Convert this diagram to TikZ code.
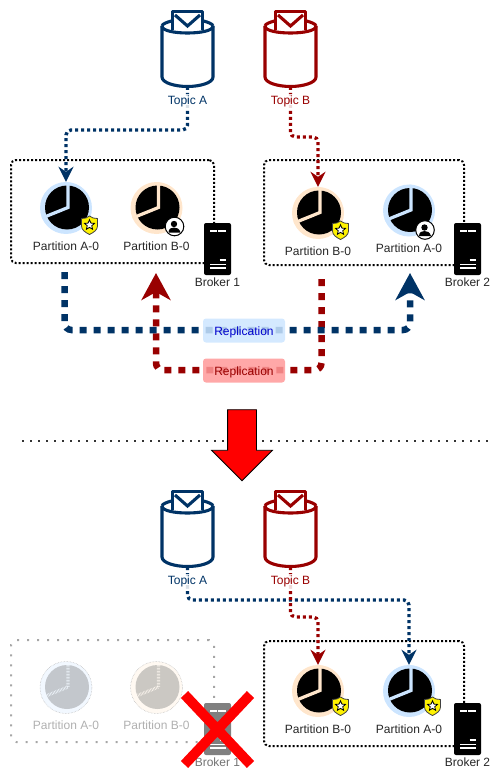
\documentclass[tikz,border=0pt]{standalone}
\usepackage{fontspec}
\setmainfont{Liberation Sans}
\usetikzlibrary{arrows.meta,positioning,shapes.geometric,shapes.arrows,shapes.misc}
\definecolor{TopicBlue}{HTML}{003366}
\definecolor{TopicRed}{HTML}{990000}
\definecolor{RingBlue}{HTML}{CCE5FF}
\definecolor{RingOrange}{HTML}{FFE6CC}
\definecolor{GhostBlue}{HTML}{C3C7CC}
\definecolor{GhostOrange}{HTML}{CBC8C3}
\definecolor{GhostText}{HTML}{B0B0B0}
\tikzset{
  pics/topic/.style={code={
    \draw[#1,line width=3.1pt,line join=round] (-25.5,-24) -- (-25.5,27) .. controls (-25.5,33) and (-12,36.5) .. (0,36.5) .. controls (12,36.5) and (25.5,33) .. (25.5,27) -- (25.5,-24);
    \draw[#1,line width=3.1pt] (-25.5,-24) .. controls (-25.5,-19) and (-12,-17) .. (0,-17) .. controls (12,-17) and (25.5,-19) .. (25.5,-24);
    \draw[#1,line width=3.1pt] (-25.5,-24) .. controls (-25.5,-26) and (-20,-28) .. (-16,-29);
    \draw[#1,line width=3.1pt] (25.5,-24) .. controls (25.5,-26) and (20,-28) .. (16,-29);
    \draw[#1,line width=3.1pt,line join=round] (-15,-20) -- (-15,-38.5) -- (15,-38.5) -- (15,-20);
    \draw[#1,line width=3.1pt] (-12.5,-35) -- (0,-24) -- (12.5,-35);
    \coordinate (-bottom) at (0,37);
  }},
  pics/shield/.style={code={
    \draw[fill=yellow,draw=black!75,line width=.8pt,line join=round] (0,-9) .. controls (-2,-7) and (-5,-6.5) .. (-8,-6.5) -- (-8,1) .. controls (-8,5) and (-4,7.5) .. (0,9.5) .. controls (4,7.5) and (8,5) .. (8,1) -- (8,-6.5) .. controls (5,-6.5) and (2,-7) .. (0,-9) -- cycle;
    \node[star,star points=5,star point ratio=2.2,draw=black,fill=white,line width=.8pt,minimum size=10.5pt,inner sep=0pt] (-star) at (0,0) {};
  }},
  pics/badge/.style={code={
    \draw[fill=white,draw=black,line width=1pt] (0,0) circle (9.3);
    \fill[black] (-.5,-2.5) circle (3.2);
    \fill[black] (-6,6) .. controls (-6,2) and (-3,1) .. (-.5,1) .. controls (2,1) and (5,2) .. (6,6) -- cycle;
  }},
  partition/.style 2 args={circle,minimum size=52pt,inner sep=0pt,fill=#1,
    path picture={
      \begin{scope}[shift={(path picture bounding box.center)}]
        \fill[#2] (1,-.5) circle (22);
        \draw[#1,line width=3.2pt] (-24,10) -- (2,-.5) -- (2,-26);
      \end{scope}
    }},
  partlabel/.style={font=\fontsize{12}{12}\selectfont,text=black!85,inner sep=0pt,text height=9pt,text depth=2pt,below=7pt of #1},
  topiclabel/.style={font=\fontsize{12}{12}\selectfont,fill=white,inner sep=1pt,fill opacity=.85,text opacity=1},
  broker/.style={rectangle,rounded corners=2pt,minimum width=27pt,minimum height=52pt,inner sep=0pt,fill=#1,
    path picture={
      \begin{scope}[shift={(path picture bounding box.center)}]
        \draw[white,line width=1.1pt] (-7.5,-18) -- (-1,-18) (0,-18) -- (8.5,-18);
        \draw[white,line width=1.1pt] (2,11) -- (8.5,11) (-7.5,15.5) -- (8.5,15.5) (-7.5,19) -- (8.5,19);
      \end{scope}
    }},
  brokerlabel/.style={font=\fontsize{12}{12}\selectfont,text=black!85,inner sep=0pt,text height=9pt,text depth=2pt,below=2.5pt of #1},
  brokerbox/.style={draw=black,line width=2pt,dash pattern=on 2pt off 2pt,rounded corners=5pt,inner sep=0pt,minimum width=#1},
  flow/.style={#1,line width=3.4pt,dash pattern=on 3pt off 3pt,rounded corners=5pt,-{Stealth[length=15pt,width=15pt,inset=5pt]}},
  repl/.style={#1,line width=6.5pt,dash pattern=on 7pt off 7pt,rounded corners=7pt,-{Stealth[length=27pt,width=29pt,inset=8pt]}},
  repllabel/.style={rounded corners=3pt,minimum width=82pt,minimum height=24pt,inner sep=0pt,text height=11pt,text depth=2pt,font=\fontsize{12}{12}\selectfont,fill opacity=.85,text opacity=1}
}
\begin{document}
\begin{tikzpicture}[x=1pt,y=-1pt]
  \useasboundingbox (0,0) rectangle (503,781);

  \pic (topicA) at (187.5,50) {topic=TopicBlue};
  \pic (topicB) at (290.5,50) {topic=TopicRed};
  \node[brokerbox=203pt,minimum height=103pt] (box1) at (112.5,211.5) {};
  \node[brokerbox=200pt,minimum height=105pt] (box2) at (364,212.5) {};
  \node[partition={RingBlue}{black}] (partA1) at (66,208) {};
  \node[partition={RingOrange}{black}] (partB1) at (156.5,208) {};
  \node[partition={RingOrange}{black}] (partB2) at (318,213) {};
  \node[partition={RingBlue}{black}] (partA2) at (409,210.5) {};
  \node[partlabel=partA1] (labelA1) {Partition A-0};
  \node[partlabel=partB1] (labelB1) {Partition B-0};
  \node[partlabel=partB2] (labelB2) {Partition B-0};
  \node[partlabel=partA2] (labelA2) {Partition A-0};
  \pic (shieldA1) at (89.5,225) {shield};
  \pic (badgeB1) at (174.5,226.5) {badge};
  \pic (shieldB2) at (340.5,230) {shield};
  \pic (badgeA2) at (425,230) {badge};
  \node[broker=black] (broker1) at (217.5,249) {};
  \node[broker=black] (broker2) at (467.5,249) {};
  \node[brokerlabel=broker1] (labelBroker1) {Broker 1};
  \node[brokerlabel=broker2] (labelBroker2) {Broker 2};
  \draw[flow=TopicBlue] (topicA-bottom) -- ++(0,43) -| (partA1.north);
  \draw[flow=TopicRed] (topicB-bottom) -- ++(0,50) -| (partB2.north);
  \node[topiclabel,text=TopicBlue] (labelTopicA) at (187.5,101) {Topic A};
  \node[topiclabel,text=TopicRed] (labelTopicB) at (290.5,101) {Topic B};

  \coordinate (replAstart) at (64.5,272);
  \coordinate (replAend) at (410,273);
  \coordinate (replBstart) at (321.5,279);
  \coordinate (replBend) at (156,273);
  \draw[repl=TopicRed] (replBstart) -- ++(0,91) -| (replBend);
  \draw[repl=TopicBlue] (replAstart) -- ++(0,58) -| (replAend);
  \node[repllabel,fill=RingBlue,text=blue!80!black] (replA) at (244,330.5) {Replication};
  \node[repllabel,fill=red!40,text=TopicRed] (replB) at (244,370.5) {Replication};

  \coordinate (sepL) at (22,440.5);
  \coordinate (sepR) at (489,440.5);
  \draw[black!80,line width=2pt,dash pattern=on 2pt off 6pt] (sepL) -- (sepR);
  \node[single arrow,shape border rotate=270,fill=red,draw=black,line width=.8pt,inner sep=14pt,minimum height=71pt,single arrow head extend=16pt,single arrow tip angle=90] (failover) at (242,438) {};

  \pic (topicA2) at (187.5,530) {topic=TopicBlue};
  \pic (topicB2) at (290.5,530) {topic=TopicRed};
  \node[brokerbox=203pt,minimum height=102pt,draw=black!35,dash pattern=on 2pt off 8pt] (box3) at (112.5,691) {};
  \node[brokerbox=200pt,minimum height=105pt] (box4) at (364,693.5) {};
  \node[partition={RingBlue!25}{GhostBlue},draw=black!30,line width=.5pt,densely dotted] (partA3) at (66,687.5) {};
  \node[partition={RingOrange!25}{GhostOrange},draw=black!30,line width=.5pt,densely dotted] (partB3) at (156.5,687.5) {};
  \node[partition={RingOrange}{black}] (partB4) at (318,691) {};
  \node[partition={RingBlue}{black}] (partA4) at (409,691) {};
  \node[partlabel=partA3,text=GhostText] (labelA3) {Partition A-0};
  \node[partlabel=partB3,text=GhostText] (labelB3) {Partition B-0};
  \node[partlabel=partB4] (labelB4) {Partition B-0};
  \node[partlabel=partA4] (labelA4) {Partition A-0};
  \pic (shieldB4) at (340.5,706) {shield};
  \pic (shieldA4) at (432.5,706) {shield};
  \node[broker=black!50] (broker3) at (217.5,729) {};
  \node[broker=black] (broker4) at (467.5,729) {};
  \node[brokerlabel=broker3,text=black!55] (labelBroker3) {Broker 1};
  \node[brokerlabel=broker4] (labelBroker4) {Broker 2};
  \node[cross out,draw=red,line width=10pt,inner sep=0pt,minimum width=56pt,minimum height=60pt] (brokerDown) at (217.5,729.5) {};
  \draw[flow=TopicBlue] (topicA2-bottom) -- ++(0,33) -| (partA4.north);
  \draw[flow=TopicRed] (topicB2-bottom) -- ++(0,50) -| (partB4.north);
  \node[topiclabel,text=TopicBlue] (labelTopicA2) at (187.5,581) {Topic A};
  \node[topiclabel,text=TopicRed] (labelTopicB2) at (290.5,581) {Topic B};
\end{tikzpicture}
\end{document}
